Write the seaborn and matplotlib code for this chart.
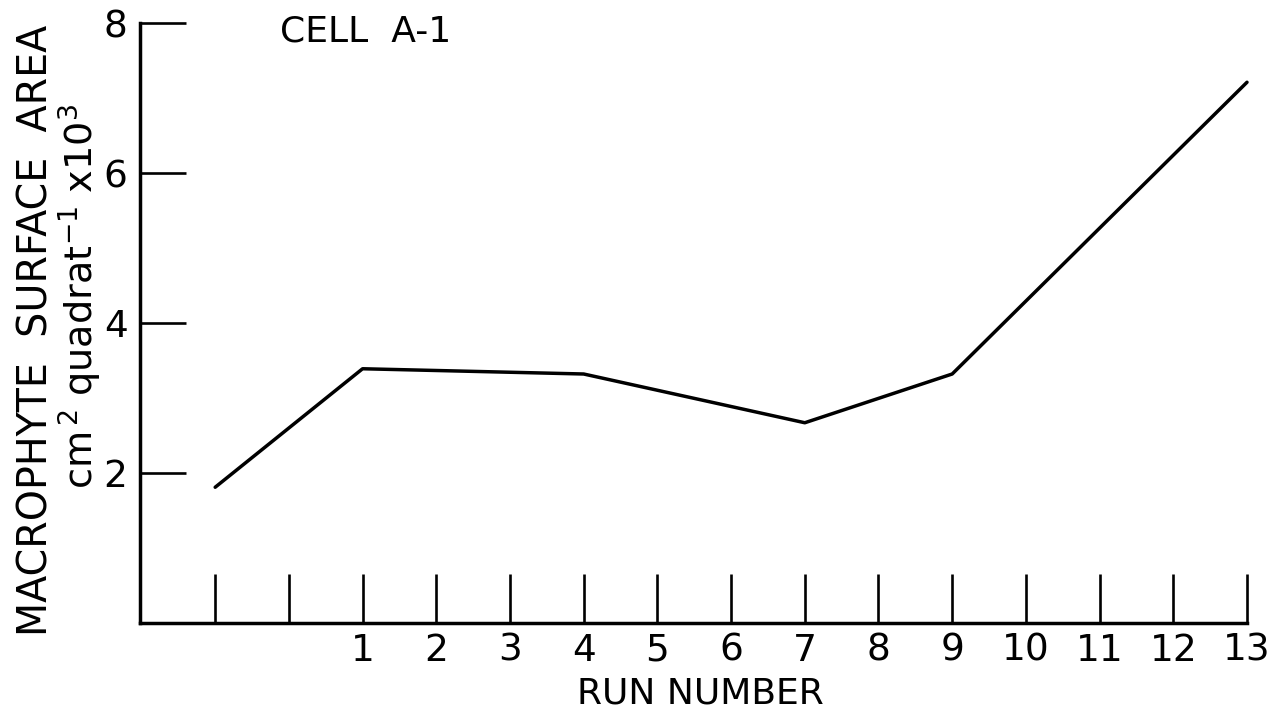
import matplotlib
matplotlib.use("Agg")
import matplotlib.pyplot as plt
import seaborn as sns
import pandas as pd

# Cell A-1 macrophyte surface area by run
run_number = [-1, 1, 4, 7, 9, 13]
surface_area = [1.81, 3.39, 3.32, 2.67, 3.32, 7.21]

tick_positions = list(range(-1, 14))
tick_labels = ["", ""] + [str(i) for i in range(1, 14)]
y_ticks = [2, 4, 6, 8]

sns.set_style("white")
plt.rcParams["font.family"] = ["DejaVu Sans"]
plt.rcParams["text.color"] = "black"
plt.rcParams["axes.labelcolor"] = "black"

W, H = 1277, 720
fig = plt.figure(figsize=(W / 100, H / 100), dpi=100)
ax_left, ax_right, ax_bottom, ax_top = 140, 1247, 623, 23
ax = fig.add_axes([ax_left / W, (H - ax_bottom) / H,
                   (ax_right - ax_left) / W, (ax_bottom - ax_top) / H])

df = pd.DataFrame({"run": run_number, "area": surface_area})
sns.lineplot(data=df, x="run", y="area", ax=ax, color="black",
             linewidth=2.5, clip_on=False)

ax.set_xlim(-2.02, 13)
ax.set_ylim(0, 8)

for side in ("top", "right"):
    ax.spines[side].set_visible(False)
for side in ("left", "bottom"):
    ax.spines[side].set_color("black")
    ax.spines[side].set_linewidth(2.5)

ax.set_xticks(tick_positions)
ax.set_xticklabels(tick_labels)
ax.set_yticks(y_ticks)
ax.set_yticklabels([str(v) for v in y_ticks])
ax.tick_params(axis="x", bottom=True, direction="in", length=35, width=1.9,
               pad=7, labelsize=27, colors="black")
ax.tick_params(axis="y", left=True, direction="in", length=33, width=1.9,
               pad=9, labelsize=27, colors="black")
for t in ax.get_xticklines() + ax.get_yticklines():
    t.set_clip_on(False)

ax.set_xlabel("RUN NUMBER", fontsize=26, color="black")
ax.xaxis.set_label_coords((700 - ax_left) / (ax_right - ax_left),
                          -(694 - ax_bottom) / (ax_bottom - ax_top))
ax.xaxis.label.set_va("center")
ax.set_ylabel("")

fig.text(37 / W, (H - 330) / H, "MACROPHYTE  SURFACE  AREA",
         rotation=90, ha="center", va="center", fontsize=28.5, color="black")
fig.text(80 / W, (H - 296) / H,
         r"cm$^{\,2}$ quadrat$^{-1}$ x10$^{3}$",
         rotation=90, ha="center", va="center", fontsize=27.5, color="black")

fig.text(280 / W, (H - 14) / H, "CELL  A-1",
         ha="left", va="top", fontsize=26, color="black")

fig.savefig("out.png", dpi=100, facecolor="white")
